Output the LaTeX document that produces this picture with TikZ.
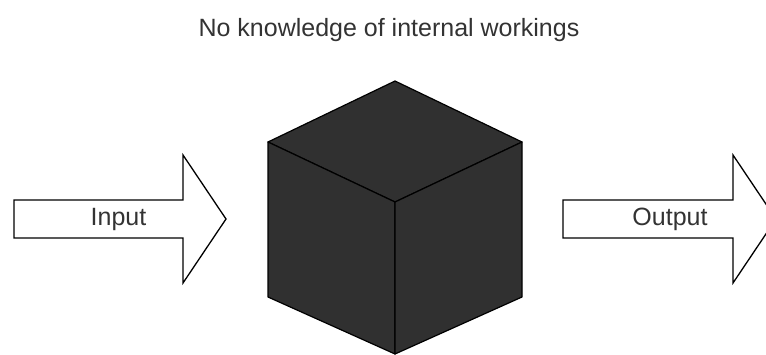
\documentclass[tikz,border=0pt]{standalone}
\usepackage{fontspec}
\setmainfont{Liberation Sans}
\begin{document}
\begin{tikzpicture}[x=1pt,y=-1pt,
  arrowshape/.style={draw=black,fill=white,line width=1.3pt,line join=miter},
  cubeface/.style={draw=black,fill=cubegray,line width=1.2pt,line join=round},
  lbl/.style={text=labelgray,font=\fontsize{25}{30}\selectfont,inner sep=0pt,anchor=base}]
\definecolor{cubegray}{HTML}{303030}
\definecolor{labelgray}{HTML}{333333}
\useasboundingbox[fill=white] (0,0) rectangle (766,354);
% title
\node[lbl] (title) at (389,36) {No knowledge of internal workings};
% input arrow
\draw[arrowshape] (14,200) -- (183,200) -- (183,155) -- (226,219) -- (183,283) -- (183,238) -- (14,238) -- cycle;
\node[lbl] (input) at (118.5,225) {Input};
% output arrow
\draw[arrowshape] (563,200) -- (733,200) -- (733,155) -- (776,219) -- (733,283) -- (733,238) -- (563,238) -- cycle;
\node[lbl] (output) at (670,225) {Output};
% cube
\coordinate (T) at (395,81);
\coordinate (L) at (268,142);
\coordinate (R) at (522,142);
\coordinate (C) at (395,202);
\coordinate (BL) at (268,297);
\coordinate (BR) at (522,297);
\coordinate (B) at (395,354);
\draw[cubeface] (T) -- (R) -- (C) -- (L) -- cycle;
\draw[cubeface] (L) -- (C) -- (B) -- (BL) -- cycle;
\draw[cubeface] (C) -- (R) -- (BR) -- (B) -- cycle;
\end{tikzpicture}
\end{document}
